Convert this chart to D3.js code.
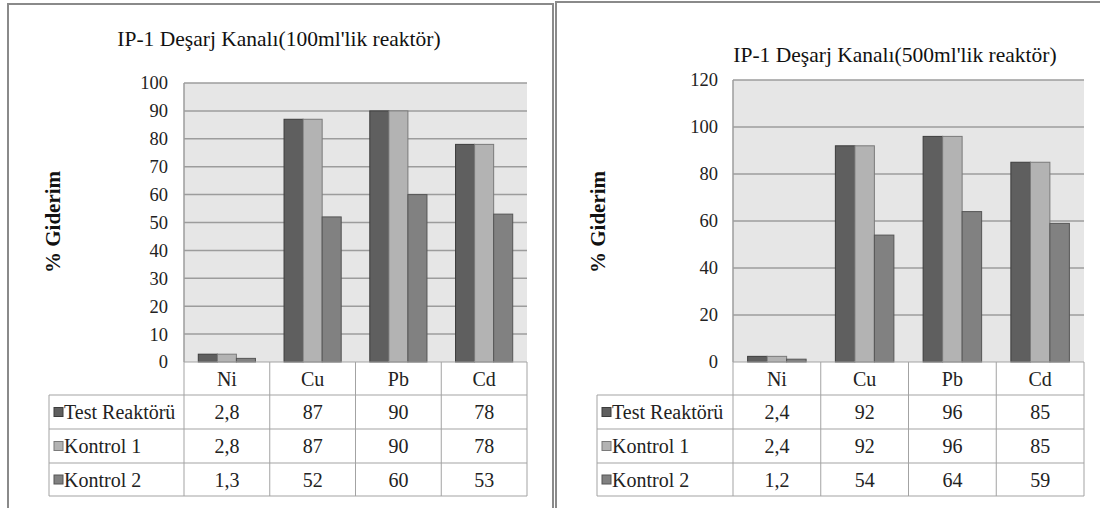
<!DOCTYPE html>
<html><head><meta charset="utf-8">
<script src="https://cdn.jsdelivr.net/npm/d3@7"></script>
<style>
html,body{margin:0;padding:0;background:#fff;}
svg{display:block;font-family:"Liberation Serif","Times New Roman",serif;}
</style></head>
<body>
<svg id="c" width="1100" height="508"></svg>
<script>
// ---- data ----
const categories = ["Ni", "Cu", "Pb", "Cd"];
const seriesNames = ["Test Reaktörü", "Kontrol 1", "Kontrol 2"];
const titles = ["IP-1 Deşarj Kanalı(100ml'lik reaktör)", "IP-1 Deşarj Kanalı(500ml'lik reaktör)"];
const yLabel = "% Giderim";
const test100 = [2.8, 87, 90, 78];
const kontrol1_100 = [2.8, 87, 90, 78];
const kontrol2_100 = [1.3, 52, 60, 53];
const test500 = [2.4, 92, 96, 85];
const kontrol1_500 = [2.4, 92, 96, 85];
const kontrol2_500 = [1.2, 54, 64, 59];
const ticks100 = [0, 10, 20, 30, 40, 50, 60, 70, 80, 90, 100];
const ticks500 = [0, 20, 40, 60, 80, 100, 120];

// ---- styles ----
const fills = ["#5f5f5f", "#b3b3b3", "#818181"];
const strokes = ["#3c3c3c", "#7a7a7a", "#555555"];
const loc = d3.formatLocale({decimal: ",", thousands: ".", grouping: [3], currency: ["", ""]});
const fmt = v => Number.isInteger(v) ? String(v) : loc.format(".1f")(v);

const svg = d3.select("#c");

// panel borders
svg.append("rect").attr("x", 8).attr("y", 4).attr("width", 545).attr("height", 520)
  .attr("fill", "none").attr("stroke", "#8a8a8a").attr("stroke-width", 2);
svg.append("rect").attr("x", 556).attr("y", 2).attr("width", 560).attr("height", 520)
  .attr("fill", "none").attr("stroke", "#8a8a8a").attr("stroke-width", 2);

function drawChart(cfg) {
  const g = svg.append("g");
  const series = cfg.series;
  const x = d3.scaleBand().domain(categories).range([cfg.x0, cfg.x1]).paddingInner(0).paddingOuter(0);
  // Excel gap width 150%: bar = band/4.5, gap 0.75 bar on each side
  const barW = x.bandwidth() / 4.5;
  const y = d3.scaleLinear().domain([0, cfg.max]).range([cfg.yZero, cfg.yTop]);

  g.append("rect").attr("x", cfg.x0).attr("y", cfg.yTop).attr("width", cfg.x1 - cfg.x0).attr("height", cfg.yZero - cfg.yTop)
    .attr("fill", "#e6e6e6");
  g.selectAll(".grid").data(cfg.ticks.filter(t => t > 0)).join("line")
    .attr("x1", cfg.x0).attr("x2", cfg.x1).attr("y1", d => y(d)).attr("y2", d => y(d))
    .attr("stroke", "#9c9c9c").attr("stroke-width", 1.5);
  const yAxis = d3.axisLeft(y).tickValues(cfg.ticks).tickSize(0).tickPadding(0).tickFormat(d => d);
  const ya = g.append("g").attr("transform", `translate(${cfg.tickRight},0)`).call(yAxis);
  ya.attr("font-family", null).attr("font-size", null);
  ya.select(".domain").remove();
  ya.selectAll("text").attr("font-size", 18.5).attr("fill", "#222").attr("dy", "0.32em");
  g.append("line").attr("x1", cfg.x0).attr("x2", cfg.x0).attr("y1", cfg.yTop).attr("y2", cfg.yZero)
    .attr("stroke", "#9c9c9c").attr("stroke-width", 1.5);

  series.forEach((vals, si) => {
    g.append("g").selectAll("rect").data(vals).join("rect")
      .attr("x", (d, i) => x(categories[i]) + barW * 0.75 + si * barW)
      .attr("y", d => y(d))
      .attr("width", barW)
      .attr("height", d => cfg.yZero - y(d))
      .attr("fill", fills[si]).attr("stroke", strokes[si]).attr("stroke-width", 1);
  });

  g.append("text").attr("x", cfg.titleX).attr("y", cfg.titleY).attr("text-anchor", "middle")
    .attr("font-size", 21.5).attr("fill", "#111").text(cfg.title);
  g.append("text").attr("transform", `translate(${cfg.yLabelX},${cfg.yLabelY}) rotate(-90)`)
    .attr("text-anchor", "middle").attr("dominant-baseline", "central")
    .attr("font-size", 21).attr("font-weight", "bold").attr("fill", "#111").text(yLabel);

  const rowTops = cfg.rows;
  const tb = g.append("g");
  const lc = "#a3a3a3";
  tb.append("line").attr("x1", cfg.x0).attr("x2", cfg.x1).attr("y1", rowTops[0]).attr("y2", rowTops[0]).attr("stroke", lc);
  for (let r = 1; r < rowTops.length; r++) {
    tb.append("line").attr("x1", cfg.legendX).attr("x2", cfg.x1).attr("y1", rowTops[r]).attr("y2", rowTops[r]).attr("stroke", lc);
  }
  tb.append("line").attr("x1", cfg.legendX).attr("x2", cfg.legendX).attr("y1", rowTops[1]).attr("y2", rowTops[rowTops.length - 1]).attr("stroke", lc);
  const colEdges = categories.map(c => x(c)).concat([cfg.x1]);
  tb.selectAll(".v").data(colEdges).join("line")
    .attr("x1", d => d).attr("x2", d => d).attr("y1", rowTops[0]).attr("y2", rowTops[rowTops.length - 1]).attr("stroke", lc);
  tb.selectAll(".h").data(categories).join("text")
    .attr("x", d => x(d) + x.bandwidth() / 2).attr("y", (rowTops[0] + rowTops[1]) / 2)
    .attr("text-anchor", "middle").attr("dominant-baseline", "central")
    .attr("font-size", 20).attr("fill", "#222").text(d => d);
  series.forEach((vals, si) => {
    const cy = (rowTops[si + 1] + rowTops[si + 2]) / 2;
    tb.append("rect").attr("x", cfg.legendX + 5).attr("y", cy - 4.5).attr("width", 9).attr("height", 9)
      .attr("fill", fills[si]).attr("stroke", strokes[si]).attr("stroke-width", 1);
    tb.append("text").attr("x", cfg.legendX + 15).attr("y", cy).attr("dominant-baseline", "central")
      .attr("font-size", 20).attr("fill", "#222").text(seriesNames[si]);
    tb.selectAll(null).data(vals).join("text")
      .attr("x", (d, i) => x(categories[i]) + x.bandwidth() / 2).attr("y", cy)
      .attr("text-anchor", "middle").attr("dominant-baseline", "central")
      .attr("font-size", 20).attr("fill", "#222").text(d => fmt(d));
  });
}

drawChart({
  series: [test100, kontrol1_100, kontrol2_100], ticks: ticks100, max: 100,
  x0: 184, x1: 527, yTop: 83, yZero: 362, tickRight: 168,
  titleX: 279, titleY: 46, title: titles[0], yLabelX: 53, yLabelY: 222,
  legendX: 49, rows: [362, 395, 429, 463, 496]
});
drawChart({
  series: [test500, kontrol1_500, kontrol2_500], ticks: ticks500, max: 120,
  x0: 733, x1: 1084, yTop: 80, yZero: 362, tickRight: 718,
  titleX: 895, titleY: 62, title: titles[1], yLabelX: 598, yLabelY: 222,
  legendX: 597, rows: [362, 395, 429, 463, 496]
});
</script>
</body></html>
